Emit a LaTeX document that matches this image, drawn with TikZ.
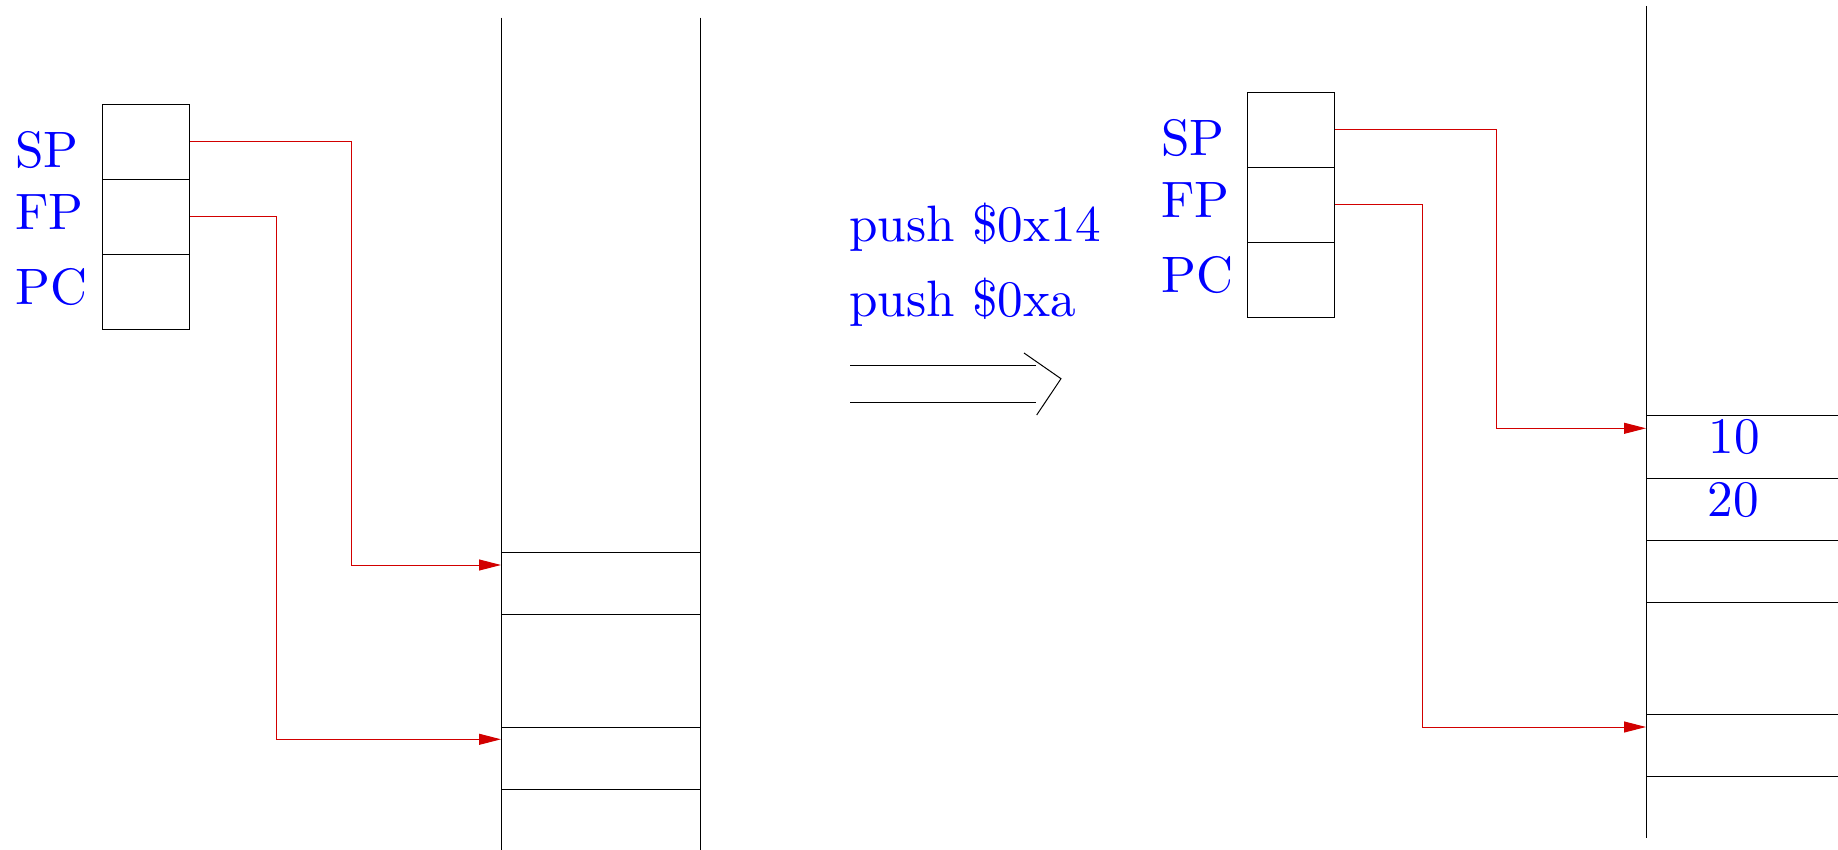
\documentclass[tikz,border=0pt]{standalone}
\usepackage{fontspec}
\usepackage{tikz}
\usetikzlibrary{arrows.meta,chains,positioning}
\newfontfamily\lmten{lmroman10-regular.otf}
\definecolor{ptrred}{RGB}{210,0,0}
\newcommand\regfont{\lmten\fontsize{25.6}{30}\selectfont}

\begin{document}
\begin{tikzpicture}[x=0.5pt,y=-0.5pt,line width=0.5pt,
        every node/.style={font=\regfont},
        reg/.style={draw,minimum width=43.5pt,minimum height=37.5pt,inner sep=0pt},
        lbl/.style={text=blue,anchor=base west,inner sep=0pt},
        ptr/.style={ptrred,-{Triangle[length=11pt,width=5.5pt]}}]
        \useasboundingbox (0,0) rectangle (1838,850);

        % registers before
        \begin{scope}[shift={(146.3,141.8)},start chain=L going below,node distance=-\pgflinewidth]
        \foreach \r in {SP,FP,PC}
        {\node [reg,on chain=L] (L\r) {};}
        \end{scope}
        \node[lbl] (LSPt) at (15,168) {SP};
        \node[lbl] (LFPt) at (15,230) {FP};
        \node[lbl] (LPCt) at (15,305) {PC};

        % stack before
        \draw (501,17.6) -- (501,850);
        \draw (700,17.6) -- (700,850);
        \foreach \y in {552,614,727,789}
        {\draw (501,\y) -- (700,\y);}
        \coordinate (lsp) at (501,565);
        \coordinate (lfp) at (501,739.3);
        \coordinate (lspbend) at (351.7,565);
        \coordinate (lfpbend) at (276.7,739.3);
        \draw[ptr] (LSP.east) -| (lspbend) -- (lsp);
        \draw[ptr] (LFP.east) -| (lfpbend) -- (lfp);

        % instructions
        \node[lbl] (I1) at (849,241.7) {push \$0x14};
        \node[lbl] (I2) at (849,316.7) {push \$0xa};
        \draw (850,366) -- (1036,366);
        \draw (850,402.7) -- (1036,402.7);
        \draw (1024,353) -- (1061,378.7) -- (1036.7,415);

        % registers after
        \begin{scope}[shift={(1291.3,129.8)},start chain=R going below,node distance=-\pgflinewidth]
        \foreach \r in {SP,FP,PC}
        {\node [reg,on chain=R] (R\r) {};}
        \end{scope}
        \node[lbl] (RSPt) at (1160.7,156) {SP};
        \node[lbl] (RFPt) at (1160.7,217.3) {FP};
        \node[lbl] (RPCt) at (1160.7,292.7) {PC};

        % stack after
        \draw (1646,6) -- (1646,838);
        \foreach \y in {415.7,478,540.3,602.3,714.3,776.7}
        {\draw (1646,\y) -- (1838,\y);}
        \node[lbl] (V10) at (1708,453.3) {10};
        \node[lbl] (V20) at (1707,516.7) {20};
        \coordinate (rsp) at (1646,428.3);
        \coordinate (rfp) at (1646,727);
        \coordinate (rspbend) at (1496.7,428.3);
        \coordinate (rfpbend) at (1422.3,727);
        \draw[ptr] (RSP.east) -| (rspbend) -- (rsp);
        \draw[ptr] (RFP.east) -| (rfpbend) -- (rfp);
\end{tikzpicture}
\end{document}
